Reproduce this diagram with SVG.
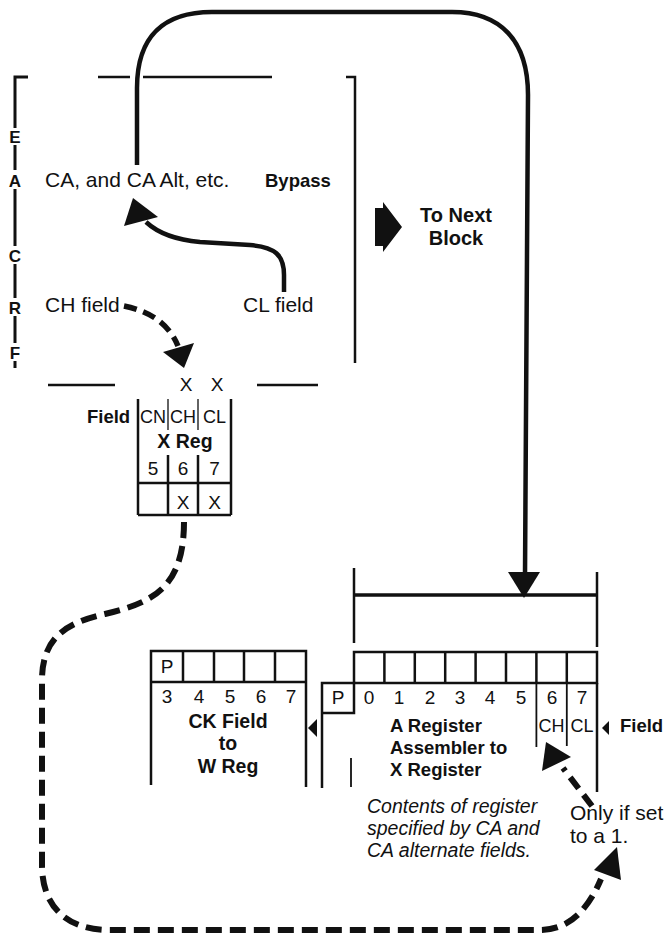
<svg xmlns="http://www.w3.org/2000/svg" width="668" height="935" viewBox="0 0 668 935">
<style>
text{font-family:"Liberation Sans",Arial,sans-serif;fill:#111}
.r{font-size:21px}
.m{font-size:19px}
.b{font-size:18.5px;font-weight:bold}
.i{font-size:19.5px;font-style:italic}
.c{text-anchor:middle}
.lt{font-size:17px;font-weight:bold;text-anchor:middle}
.ln{stroke:#111;stroke-width:2.5;fill:none}
.th{stroke:#111;stroke-width:1.3;fill:none}
.solid{stroke:#111;stroke-width:4.5;fill:none}
.dash{stroke:#111;stroke-width:6;fill:none;stroke-dasharray:16 8}
.ah{fill:#111}
</style>
<rect width="668" height="935" fill="#fff"/>

<g id="frame">
  <path class="ln" style="stroke-width:3" d="M28,77 L15,77 L15,128 M15,145 L15,170 M15,189 L15,246 M15,264 L15,298 M15,316 L15,343 M15,361 L15,368"/>
  <text class="lt" x="15" y="143">E</text>
  <text class="lt" x="15" y="187">A</text>
  <text class="lt" x="15" y="262">C</text>
  <text class="lt" x="15" y="314">R</text>
  <text class="lt" x="15" y="359">F</text>
  <path class="ln" d="M98,77 L130,77 M143,77 L272,77"/>
  <path class="ln" d="M346,77 L355,77 L355,363"/>
  <path class="ln" d="M48,385 L115,385 M257,385 L318,385"/>
</g>

<g id="ca-field"><text class="r" x="45" y="187">CA, and CA Alt, etc.</text></g>
<g id="bypass"><text class="b" x="265" y="187">Bypass</text></g>
<g id="ch-field"><text class="r" x="45" y="312">CH field</text></g>
<g id="cl-field"><text class="r" x="243" y="312">CL field</text></g>

<g id="next-block">
  <polygon class="ah" points="375,208 383,208 383,202 402,227 383,252 383,246 375,246"/>
  <text class="b c" style="font-size:20px" x="456" y="222">To Next</text>
  <text class="b c" style="font-size:20px" x="456" y="245">Block</text>
</g>

<g id="x-reg">
  <text class="m c" x="186" y="391">X</text>
  <text class="m c" x="217" y="391">X</text>
  <text class="b" x="87" y="423">Field</text>
  <path class="ln" d="M138,399 L138,515 M231,399 L231,515 M138,483 L231,483 M138,515 L231,515 M168,455 L168,515 M198,455 L198,515"/>
  <path class="th" d="M168,399 L168,430 M198,399 L198,430"/>
  <text class="m c" x="153" y="423" style="font-size:18px">CN</text>
  <text class="m c" x="183" y="423" style="font-size:18px">CH</text>
  <text class="m c" x="214.5" y="423" style="font-size:18px">CL</text>
  <text class="b c" x="185" y="448" style="font-size:19.5px">X Reg</text>
  <text class="m c" x="153" y="475">5</text>
  <text class="m c" x="183" y="475">6</text>
  <text class="m c" x="214.5" y="475">7</text>
  <text class="m c" x="183" y="509">X</text>
  <text class="m c" x="214.5" y="509">X</text>
</g>

<g id="ck-field">
  <path class="ln" d="M151,785 L151,651 L306,651 L306,787 M151,682 L306,682 M183,651 L183,682 M214,651 L214,682 M244,651 L244,682 M275,651 L275,682"/>
  <text class="m c" x="167" y="673">P</text>
  <text class="m c" x="167" y="703">3</text>
  <text class="m c" x="199" y="703">4</text>
  <text class="m c" x="230" y="703">5</text>
  <text class="m c" x="261" y="703">6</text>
  <text class="m c" x="291" y="703">7</text>
  <text class="b c" x="228" y="728" style="font-size:19.5px">CK Field</text>
  <text class="b c" x="228" y="750" style="font-size:19.5px">to</text>
  <text class="b c" x="228" y="773" style="font-size:19.5px">W Reg</text>
  <polygon class="ah" points="308,728 317,719 317,737"/>
</g>

<g id="a-register">
  <path class="ln" d="M354,568 L354,643 M597,572 L597,647"/>
  <path class="ln" style="stroke-width:3.5" d="M354,595 L597,595"/>
  <rect class="ln" x="354" y="652" width="243" height="31"/>
  <path class="ln" d="M384.4,652 L384.4,683 M414.8,652 L414.8,683 M445.2,652 L445.2,683 M475.6,652 L475.6,683 M506,652 L506,683 M536.4,652 L536.4,683 M566.8,652 L566.8,683"/>
  <path class="ln" d="M322,788 L322,683 L354,683 L354,713 L322,713 M597,683 L597,792"/>
  <path class="th" style="stroke-width:1.8" d="M536.4,683 L536.4,747 M566.8,683 L566.8,746 M351,758 L351,787"/>
  <text class="m c" x="338" y="704">P</text>
  <text class="m c" x="369" y="704">0</text>
  <text class="m c" x="399" y="704">1</text>
  <text class="m c" x="430" y="704">2</text>
  <text class="m c" x="460" y="704">3</text>
  <text class="m c" x="490" y="704">4</text>
  <text class="m c" x="521" y="704">5</text>
  <text class="m c" x="552" y="704">6</text>
  <text class="m c" x="582" y="704">7</text>
  <text class="m c" x="551.6" y="732" style="font-size:18px">CH</text>
  <text class="m c" x="582" y="732" style="font-size:18px">CL</text>
  <polygon class="ah" points="602,728 609,721 609,735"/>
  <text class="b" x="620" y="732">Field</text>
  <text class="b" x="390" y="732">A Register</text>
  <text class="b" x="390" y="754">Assembler to</text>
  <text class="b" x="390" y="776">X Register</text>
</g>

<g id="contents-note">
  <text class="i" x="367" y="813">Contents of register</text>
  <text class="i" x="367" y="835">specified by CA and</text>
  <text class="i" x="367" y="857">CA alternate fields.</text>
</g>

<g id="only-if-set">
  <text class="r" x="570" y="820">Only if set</text>
  <text class="r" x="570" y="843">to a 1.</text>
</g>

<g id="connectors">
  <path class="solid" d="M137,165 L137,88 C137,35 165,12 212,12 L452,12 C500,12 528,40 528,95 L525,575"/>
  <polygon class="ah" points="524,598 508,572 540,572"/>
  <path class="solid" d="M284,292 L284,275 C284,255 275,247 250,245 L200,242 C178,240 160,235 146,222"/>
  <polygon class="ah" points="133,198 124,226 158,217"/>
  <path class="dash" style="stroke-width:5.5;stroke-dasharray:13 7" d="M124,306 C148,311 168,322 178,346"/>
  <polygon class="ah" points="163,352 194,343 184,368"/>
  <path class="dash" d="M184,522 C184,590 150,603 105,614 C70,622 42,635 42,680 L42,865 C42,905 65,930 110,930 L540,930 C572,930 590,905 601,879"/>
  <polygon class="ah" points="617,847 594,870 621,880"/>
  <path class="dash" style="stroke-dasharray:14 8" d="M592,806 L563,768"/>
  <polygon class="ah" points="546,742 542,771 571,757"/>
</g>
</svg>
